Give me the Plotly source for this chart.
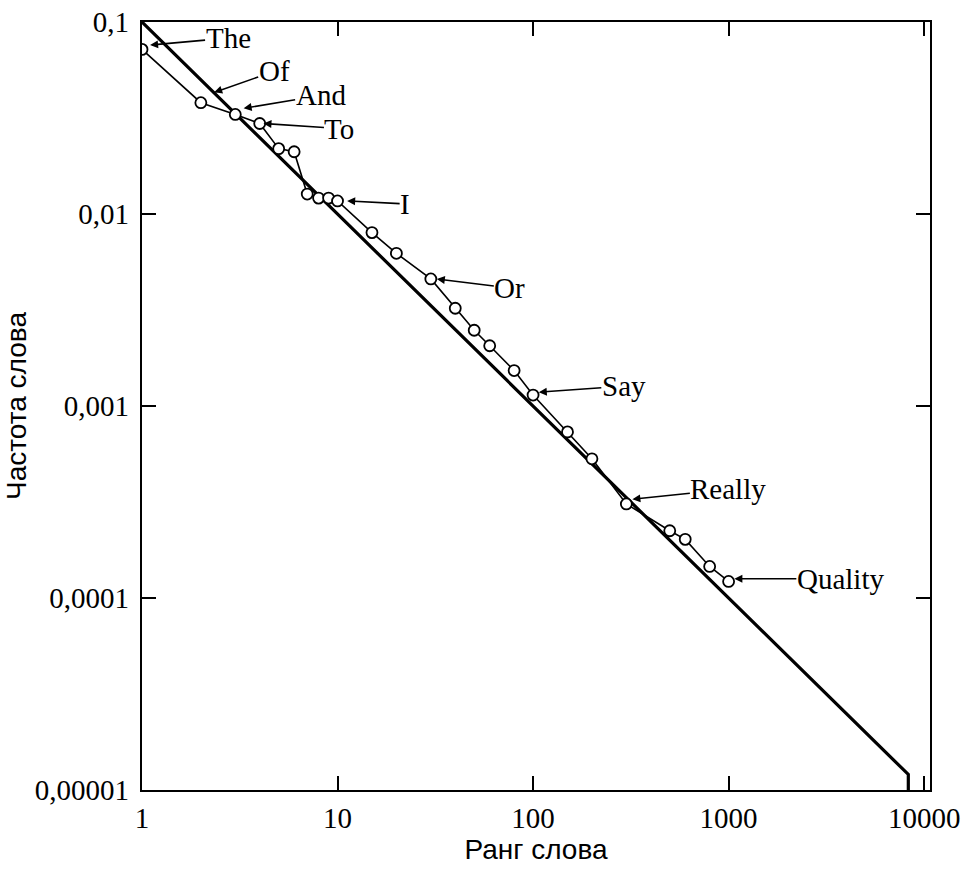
import numpy as np
import plotly.graph_objects as go

# ---- data ----
ranks = [1, 2, 3, 4, 5, 6, 7, 8, 9, 10, 15, 20, 30, 40, 50, 60, 80, 100,
         150, 200, 300, 500, 600, 800, 1000]
freqs = [0.072, 0.038, 0.033, 0.0296, 0.0219, 0.0211, 0.0127, 0.0121, 0.0121,
         0.0117, 0.0080, 0.00624, 0.00459, 0.00323, 0.00248, 0.00206, 0.00153,
         0.00114, 0.000733, 0.000531, 0.000309, 0.000224, 0.000202, 0.000146,
         0.000122]

# Zipf line f = 0.1 / r, ending near r = 8300 with a drop to the axis
zipf_x = [1, 8300, 8300]
zipf_y = [0.1, 0.1 / 8300, 0.00001]

# labelled words: text, arrow-tip rank, arrow-tip frequency
word_labels = ["The", "Of", "And", "To", "I", "Or", "Say", "Really", "Quality"]
word_tip_x = [1.1, 2.34, 3.31, 4.18, 11.2, 32.2, 107, 322, 1070]
word_tip_y = [0.0758, 0.043, 0.0355, 0.0296, 0.0117, 0.00459, 0.00118,
              0.000327, 0.000126]

x_tickvals = [1, 10, 100, 1000, 10000]
x_ticktext = ["1", "10", "100", "1000", "10000"]
y_tickvals = [0.1, 0.01, 0.001, 0.0001, 0.00001]
y_ticktext = ["0,1", "0,01", "0,001", "0,0001", "0,00001"]

x_title = "Ранг слова"
y_title = "Частота слова"

# ---- styling (kept separate from data) ----
label_offsets = [(78, -7), (60, -21), (77, -13), (76, 5), (58, 3),
                 (73, 9), (85, -6), (96, -10), (106, 0)]

serif = "Liberation Serif, Times New Roman, serif"
sans = "Liberation Sans, Arial, sans-serif"

fig = go.Figure()

fig.add_trace(go.Scatter(
    x=zipf_x, y=zipf_y, mode="lines",
    line=dict(color="black", width=3.2),
    hoverinfo="skip", showlegend=False,
))

fig.add_trace(go.Scatter(
    x=ranks, y=freqs, mode="lines+markers",
    line=dict(color="black", width=1.6),
    marker=dict(symbol="circle", size=11, color="white",
                line=dict(color="black", width=1.8)),
    showlegend=False,
))

for txt, tx, ty, (ax, ay) in zip(word_labels, word_tip_x, word_tip_y, label_offsets):
    fig.add_annotation(
        x=np.log10(tx), y=np.log10(ty), xref="x", yref="y",
        text=txt, showarrow=True, ax=ax, ay=ay,
        arrowhead=2, arrowsize=1.0, arrowwidth=1.6, arrowcolor="black",
        font=dict(family=serif, size=29, color="black"),
        borderpad=0, standoff=0,
    )

axis_common = dict(
    type="log", showgrid=False, zeroline=False,
    showline=True, linecolor="black", linewidth=2.2, mirror="ticks",
    ticks="inside", ticklen=14, tickwidth=2, tickcolor="black",
    tickfont=dict(family=serif, size=29, color="black"),
)

fig.update_xaxes(
    **axis_common, range=[0, 4.03],
    tickvals=x_tickvals, ticktext=x_ticktext, ticklabelstandoff=1,
    title=dict(text=x_title, font=dict(family=sans, size=28, color="black"),
               standoff=4),
)
fig.update_yaxes(
    **axis_common, range=[-5, -1],
    tickvals=y_tickvals, ticktext=y_ticktext, ticklabelstandoff=5,
    title=dict(text=y_title, font=dict(family=sans, size=28, color="black"),
               standoff=0),
)

fig.update_layout(
    width=962, height=872,
    margin=dict(l=142, r=32, t=22, b=82, autoexpand=False),
    paper_bgcolor="white", plot_bgcolor="white",
)

fig.write_html("out.html")
